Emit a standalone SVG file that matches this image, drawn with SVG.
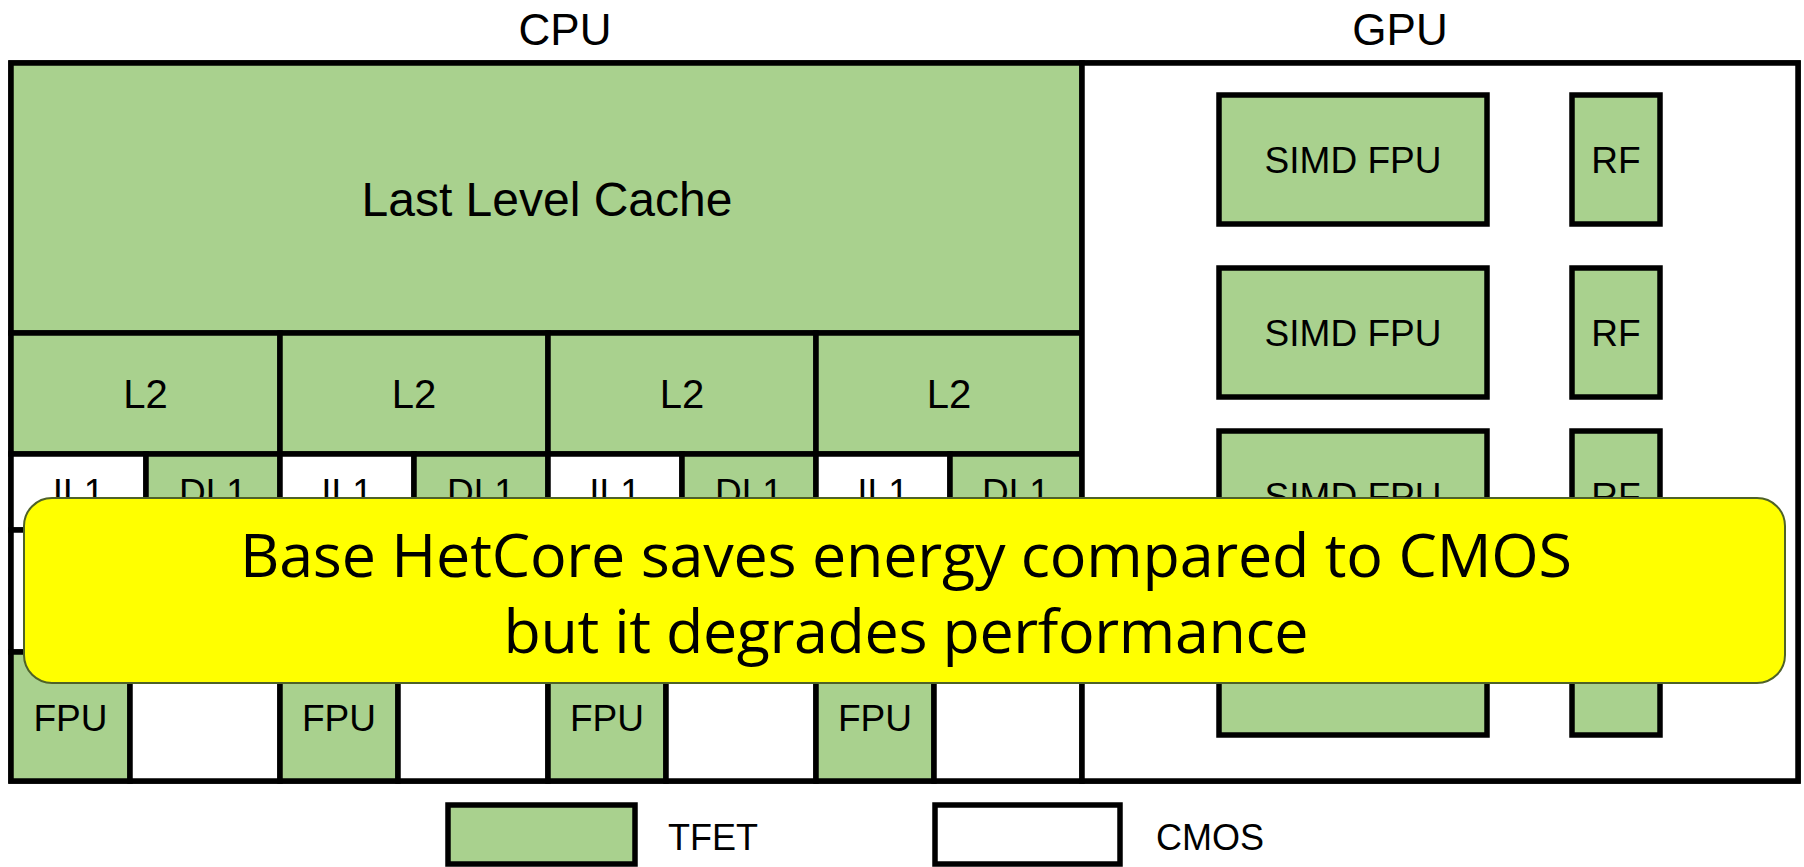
<svg xmlns="http://www.w3.org/2000/svg" width="1804" height="867" viewBox="0 0 1804 867">
<style>
.g{fill:#A9D18E;stroke:#000;stroke-width:5.5}
.w{fill:#FFFFFF;stroke:#000;stroke-width:5.5}
.t{font-family:"Liberation Sans",Arial,sans-serif;fill:#000;text-anchor:middle}
.lab{font-size:37px}
.l2{font-size:40px}
.c{font-family:"Open Sans","Noto Sans",sans-serif;font-size:61px;fill:#000;text-anchor:middle}
</style>
<rect width="1804" height="867" fill="#FFFFFF"/>
<text class="t" x="565" y="45" font-size="44">CPU</text>
<text class="t" x="1400" y="45" font-size="44">GPU</text>
<g id="frame"><rect class="w" x="11" y="63" width="1787" height="718"/></g>
<g id="llc"><rect class="g" x="11" y="63" width="1071" height="270"/><text class="t" x="547" y="216" font-size="48">Last Level Cache</text></g>
<g id="core1">
<rect class="g" x="11" y="333" width="269" height="121"/><text class="t l2" x="145.5" y="408">L2</text>
<rect class="w" x="11" y="454" width="135" height="76"/><text class="t lab" x="78.5" y="505">IL1</text>
<rect class="g" x="146" y="454" width="134" height="76"/><text class="t lab" x="213" y="505">DL1</text>
<rect class="w" x="11" y="530" width="269" height="122"/>
<rect class="g" x="11" y="652" width="119" height="129"/><text class="t lab" x="70.5" y="731">FPU</text>
<rect class="w" x="130" y="652" width="150" height="129"/>
</g>
<g id="core2">
<rect class="g" x="280" y="333" width="268" height="121"/><text class="t l2" x="414" y="408">L2</text>
<rect class="w" x="280" y="454" width="134" height="76"/><text class="t lab" x="347" y="505">IL1</text>
<rect class="g" x="414" y="454" width="134" height="76"/><text class="t lab" x="481" y="505">DL1</text>
<rect class="w" x="280" y="530" width="268" height="122"/>
<rect class="g" x="280" y="652" width="118" height="129"/><text class="t lab" x="339" y="731">FPU</text>
<rect class="w" x="398" y="652" width="150" height="129"/>
</g>
<g id="core3">
<rect class="g" x="548" y="333" width="268" height="121"/><text class="t l2" x="682" y="408">L2</text>
<rect class="w" x="548" y="454" width="134" height="76"/><text class="t lab" x="615" y="505">IL1</text>
<rect class="g" x="682" y="454" width="134" height="76"/><text class="t lab" x="749" y="505">DL1</text>
<rect class="w" x="548" y="530" width="268" height="122"/>
<rect class="g" x="548" y="652" width="118" height="129"/><text class="t lab" x="607" y="731">FPU</text>
<rect class="w" x="666" y="652" width="150" height="129"/>
</g>
<g id="core4">
<rect class="g" x="816" y="333" width="266" height="121"/><text class="t l2" x="949" y="408">L2</text>
<rect class="w" x="816" y="454" width="134" height="76"/><text class="t lab" x="883" y="505">IL1</text>
<rect class="g" x="950" y="454" width="132" height="76"/><text class="t lab" x="1016" y="505">DL1</text>
<rect class="w" x="816" y="530" width="266" height="122"/>
<rect class="g" x="816" y="652" width="118" height="129"/><text class="t lab" x="875" y="731">FPU</text>
<rect class="w" x="934" y="652" width="148" height="129"/>
</g>
<g id="gpu">
<rect class="w" x="1082" y="63" width="716" height="718"/>
<g id="simd1"><rect class="g" x="1219" y="95" width="268" height="129"/><text class="t lab" x="1353" y="173">SIMD FPU</text></g>
<g id="rf1"><rect class="g" x="1572" y="95" width="88" height="129"/><text class="t lab" x="1616" y="173">RF</text></g>
<g id="simd2"><rect class="g" x="1219" y="268" width="268" height="129"/><text class="t lab" x="1353" y="346">SIMD FPU</text></g>
<g id="rf2"><rect class="g" x="1572" y="268" width="88" height="129"/><text class="t lab" x="1616" y="346">RF</text></g>
<g id="simd3"><rect class="g" x="1219" y="431" width="268" height="129"/><text class="t lab" x="1353" y="509">SIMD FPU</text></g>
<g id="rf3"><rect class="g" x="1572" y="431" width="88" height="129"/><text class="t lab" x="1616" y="509">RF</text></g>
<g id="simd4"><rect class="g" x="1219" y="605" width="268" height="130"/><text class="t lab" x="1353" y="684">SIMD FPU</text></g>
<g id="rf4"><rect class="g" x="1572" y="605" width="88" height="130"/><text class="t lab" x="1616" y="684">RF</text></g>
</g>
<g id="legend">
<rect class="g" x="448" y="805" width="187" height="59"/><text x="668" y="850" font-family="Liberation Sans,Arial,sans-serif" font-size="36">TFET</text>
<rect class="w" x="935" y="805" width="185" height="59"/><text x="1156" y="850" font-family="Liberation Sans,Arial,sans-serif" font-size="36">CMOS</text>
</g>
<g id="callout">
<rect x="24" y="498" width="1761" height="185" rx="28" ry="28" fill="#FFFF00" stroke="#4F6228" stroke-width="2"/>
<text class="c" x="906" y="577" textLength="1332">Base HetCore saves energy compared to CMOS</text>
<text class="c" x="906" y="653" textLength="805">but it degrades performance</text>
</g>
<g id="connectors"></g>
</svg>
